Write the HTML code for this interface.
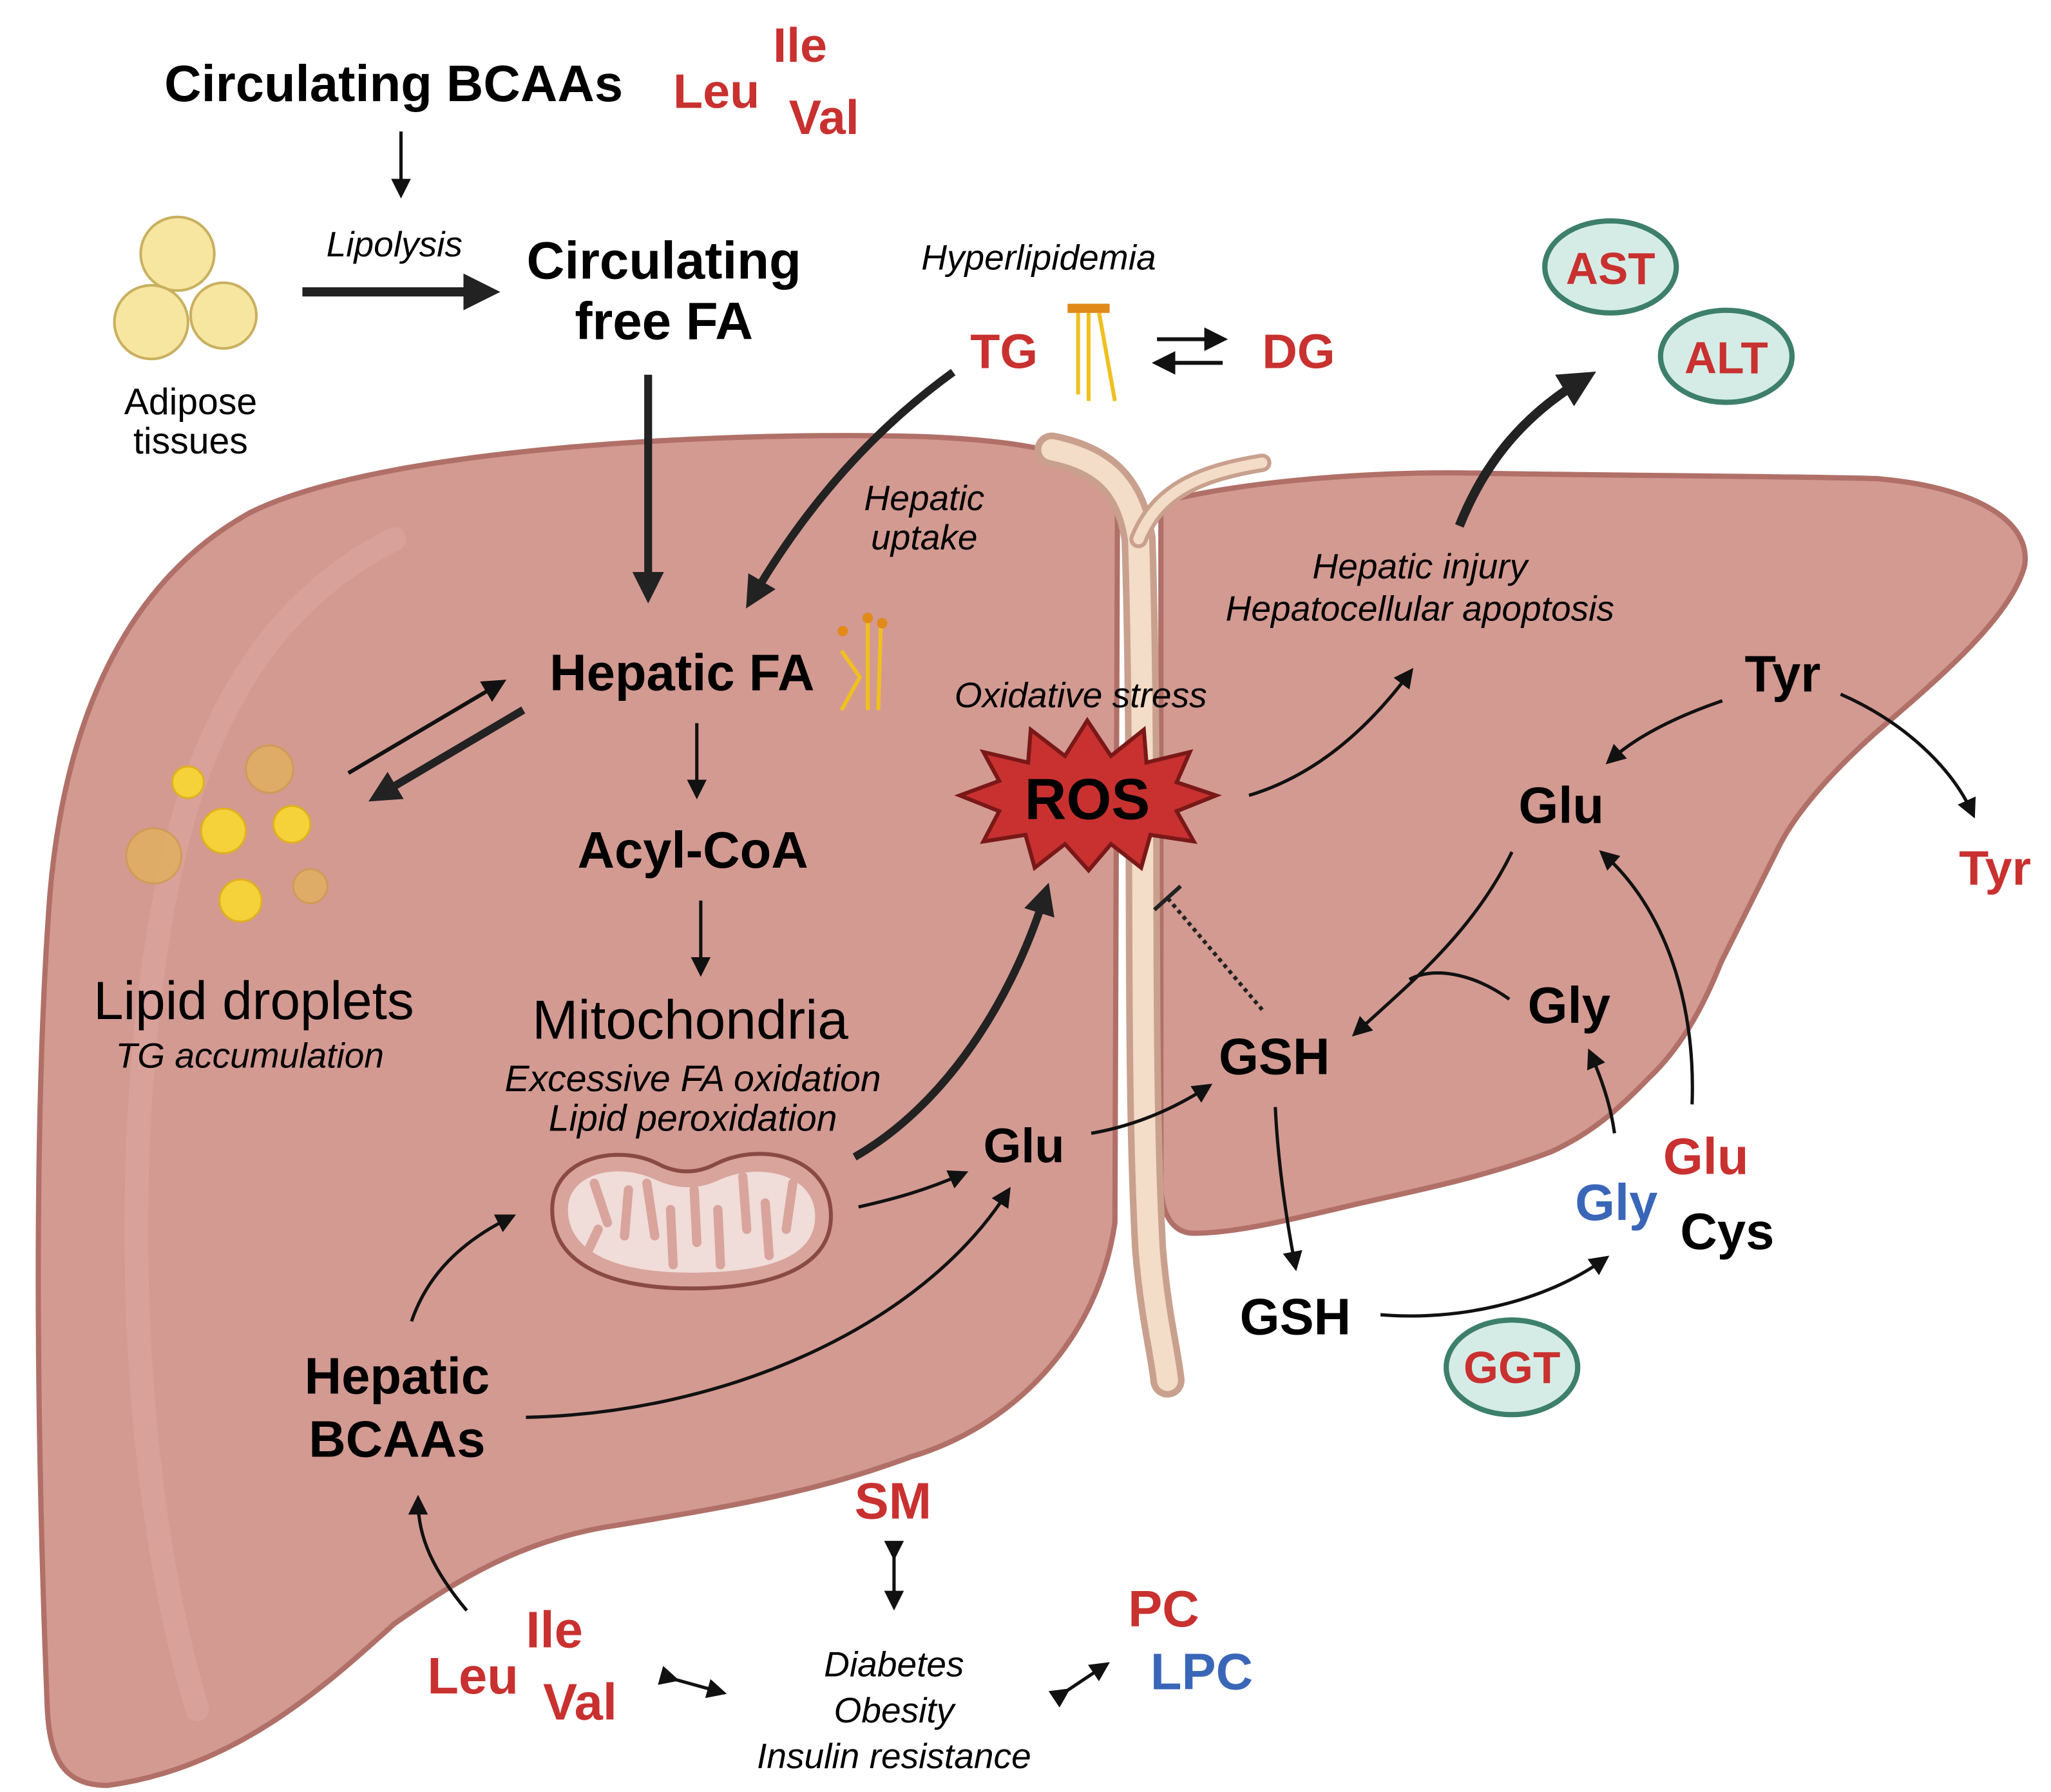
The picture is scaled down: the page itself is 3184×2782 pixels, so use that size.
<!DOCTYPE html>
<html><head><meta charset="utf-8"><style>
html,body{margin:0;padding:0;background:#fff;}
svg{display:block;}
text{font-family:"Liberation Sans",sans-serif;}
.b{font-weight:bold;}
.i{font-style:italic;}
.r{fill:#c8312f;}
.bl{fill:#3a66b8;}
</style></head><body>
<svg width="3184" height="2782" viewBox="0 0 1560 1363" xmlns="http://www.w3.org/2000/svg">
<defs>
<marker id="a" markerWidth="6" markerHeight="6" refX="4" refY="3" orient="auto" markerUnits="strokeWidth"><path d="M0,0 L6,3 L0,6 Z" fill="#111"/></marker>
<marker id="as" markerWidth="4" markerHeight="4" refX="2.5" refY="2" orient="auto-start-reverse" markerUnits="strokeWidth"><path d="M0,0 L4,2 L0,4 Z" fill="#222"/></marker>
</defs>
<rect width="1560" height="1363" fill="#fff"/>
<path d="M82,1358 C50,1358 38,1340 36,1300 C28,1100 25,850 38,680 C50,540 100,440 190,390 C290,340 550,328 700,332 C780,335 830,345 850,370 L848,930 C835,1020 770,1085 693,1108 C620,1135 560,1145 470,1160 C400,1170 350,1200 300,1235 C250,1280 180,1345 82,1358 Z" fill="#d39a92" stroke="#b07068" stroke-width="4"/>
<path d="M150,1300 C90,1100 90,800 140,620 C170,520 220,450 300,410" fill="none" stroke="#dca7a0" stroke-width="18" stroke-linecap="round" opacity="0.6"/>
<path d="M883,382 C950,365 1050,358 1130,360 C1250,362 1350,362 1427,364 C1500,370 1545,395 1540,430 C1530,470 1470,520 1427,557 C1390,590 1365,620 1353,644 C1330,690 1320,710 1309,732 C1290,780 1270,805 1254,820 C1230,845 1210,862 1180,876 C1130,895 1080,905 1031,916 C980,928 940,938 908,938 C890,938 883,920 883,900 Z" fill="#d39a92" stroke="#b07068" stroke-width="4"/>
<path d="M800,342 C840,350 860,370 866,410 C872,600 866,800 874,950 C878,1000 886,1030 888,1050" fill="none" stroke="#c9a08e" stroke-width="26" stroke-linecap="round"/>
<path d="M800,342 C840,350 860,370 866,410 C872,600 866,800 874,950 C878,1000 886,1030 888,1050" fill="none" stroke="#f3dcc8" stroke-width="16" stroke-linecap="round"/>
<path d="M866,410 C880,375 910,360 960,352" fill="none" stroke="#c9a08e" stroke-width="14" stroke-linecap="round"/>
<path d="M866,410 C880,375 910,360 960,352" fill="none" stroke="#f3dcc8" stroke-width="8" stroke-linecap="round"/>
<text x="125" y="77" class="b" font-size="39">Circulating BCAAs</text>
<text x="588" y="47" class="b r" font-size="37">Ile</text>
<text x="512" y="82" class="b r" font-size="37">Leu</text>
<text x="600" y="102" class="b r" font-size="37">Val</text>
<line x1="305" y1="100" x2="305" y2="146" stroke="#111" stroke-width="2.5" marker-end="url(#a)"/>
<g fill="#f7e6a0" stroke="#c9b060" stroke-width="2"><circle cx="135" cy="193" r="28"/><circle cx="115" cy="245" r="28"/><circle cx="170" cy="240" r="25"/></g>
<text x="145" y="315" font-size="28" text-anchor="middle">Adipose</text>
<text x="145" y="345" font-size="28" text-anchor="middle">tissues</text>
<text x="300" y="195" class="i" font-size="27" text-anchor="middle">Lipolysis</text>
<line x1="230" y1="222" x2="370" y2="222" stroke="#222" stroke-width="7" marker-end="url(#as)"/>
<text x="505" y="212" class="b" font-size="40" text-anchor="middle">Circulating</text>
<text x="505" y="258" class="b" font-size="40" text-anchor="middle">free FA</text>
<text x="790" y="205" class="i" font-size="27" text-anchor="middle">Hyperlipidemia</text>
<text x="738" y="280" class="b r" font-size="37">TG</text>
<g stroke="#f0c020" stroke-width="3"><line x1="820" y1="238" x2="820" y2="300"/><line x1="828" y1="238" x2="828" y2="305"/><line x1="836" y1="238" x2="848" y2="305"/></g>
<rect x="812" y="231" width="32" height="7" fill="#e08a1a"/>
<line x1="880" y1="258" x2="928" y2="258" stroke="#111" stroke-width="3" marker-end="url(#a)"/>
<line x1="930" y1="276" x2="882" y2="276" stroke="#111" stroke-width="3" marker-end="url(#a)"/>
<text x="960" y="280" class="b r" font-size="37">DG</text>
<ellipse cx="1225" cy="203" rx="50" ry="35" fill="#d5ece6" stroke="#3d7f6a" stroke-width="4"/>
<text x="1225" y="216" class="b r" font-size="34" text-anchor="middle">AST</text>
<ellipse cx="1313" cy="271" rx="50" ry="35" fill="#d5ece6" stroke="#3d7f6a" stroke-width="4"/>
<text x="1313" y="284" class="b r" font-size="34" text-anchor="middle">ALT</text>
<path d="M1110,400 C1130,350 1160,315 1205,288" fill="none" stroke="#222" stroke-width="7" marker-end="url(#as)"/>
<line x1="493" y1="285" x2="493" y2="450" stroke="#222" stroke-width="6" marker-end="url(#as)"/>
<path d="M725,283 C660,330 610,390 572,455" fill="none" stroke="#222" stroke-width="6" marker-end="url(#as)"/>
<text x="703" y="388" class="i" font-size="27" text-anchor="middle">Hepatic</text>
<text x="703" y="418" class="i" font-size="27" text-anchor="middle">uptake</text>
<text x="1080" y="440" class="i" font-size="27" text-anchor="middle">Hepatic injury</text>
<text x="1080" y="472" class="i" font-size="27" text-anchor="middle">Hepatocellular apoptosis</text>
<text x="418" y="525" class="b" font-size="39">Hepatic FA</text>
<g stroke="#f0c020" stroke-width="3" fill="none"><path d="M640,495 L654,515 L640,540"/><line x1="660" y1="472" x2="660" y2="540"/><line x1="670" y1="475" x2="668" y2="540"/></g>
<circle cx="660" cy="470" r="4" fill="#e08a1a"/><circle cx="671" cy="474" r="4" fill="#e08a1a"/><circle cx="641" cy="480" r="4" fill="#e08a1a"/>
<line x1="265" y1="588" x2="380" y2="520" stroke="#111" stroke-width="3" marker-end="url(#a)"/>
<line x1="398" y1="540" x2="288" y2="605" stroke="#222" stroke-width="6" marker-end="url(#as)"/>
<g fill="#f5d23a" stroke="#e0b020" stroke-width="1.5"><circle cx="143" cy="595" r="12"/><circle cx="170" cy="632" r="17"/><circle cx="222" cy="627" r="14"/><circle cx="183" cy="685" r="16"/></g>
<g fill="#e2b060" stroke="#d09a50" stroke-width="1.5" opacity="0.85"><circle cx="205" cy="585" r="18"/><circle cx="117" cy="651" r="21"/><circle cx="236" cy="674" r="13"/></g>
<text x="193" y="775" font-size="41" text-anchor="middle">Lipid droplets</text>
<text x="190" y="812" class="i" font-size="27" text-anchor="middle">TG accumulation</text>
<line x1="530" y1="550" x2="530" y2="603" stroke="#111" stroke-width="2.5" marker-end="url(#a)"/>
<text x="527" y="660" class="b" font-size="39" text-anchor="middle">Acyl-CoA</text>
<line x1="533" y1="685" x2="533" y2="738" stroke="#111" stroke-width="2.5" marker-end="url(#a)"/>
<text x="525" y="790" font-size="42" text-anchor="middle">Mitochondria</text>
<text x="527" y="830" class="i" font-size="28" text-anchor="middle">Excessive FA oxidation</text>
<text x="527" y="860" class="i" font-size="28" text-anchor="middle">Lipid peroxidation</text>
<path d="M420,920 C420,880 470,870 500,885 C515,893 530,893 545,885 C580,868 632,880 632,925 C632,965 585,980 525,980 C465,980 420,962 420,920 Z" fill="#d8a49c" stroke="#8a4a44" stroke-width="3"/>
<path d="M432,920 C432,892 470,884 498,897 C515,905 532,905 548,897 C578,884 620,893 620,925 C620,958 580,968 525,968 C470,968 432,953 432,920 Z" fill="#f0dcd8"/>
<g stroke="#d8a49c" stroke-width="7" stroke-linecap="round"><line x1="452" y1="900" x2="462" y2="930"/><line x1="475" y1="940" x2="478" y2="905"/><line x1="492" y1="900" x2="498" y2="940"/><line x1="512" y1="962" x2="510" y2="920"/><line x1="528" y1="905" x2="530" y2="945"/><line x1="548" y1="962" x2="546" y2="920"/><line x1="565" y1="895" x2="568" y2="935"/><line x1="585" y1="955" x2="582" y2="915"/><line x1="603" y1="900" x2="598" y2="935"/><line x1="448" y1="950" x2="455" y2="935"/></g>
<text x="822" y="538" class="i" font-size="27" text-anchor="middle">Oxidative stress</text>
<polygon points="827,548 845,575 870,555 872,580 905,572 895,595 925,605 895,617 908,640 875,635 868,660 845,642 828,662 810,642 787,660 780,635 748,640 760,617 730,605 760,594 748,572 782,580 784,555 810,575" fill="#c8312f" stroke="#7a1818" stroke-width="3"/>
<text x="827" y="623" class="b" font-size="44" text-anchor="middle">ROS</text>
<path d="M950,605 C1000,590 1040,555 1072,512" fill="none" stroke="#111" stroke-width="2.5" marker-end="url(#a)"/>
<path d="M650,880 C720,840 770,760 795,680" fill="none" stroke="#222" stroke-width="6" marker-end="url(#as)"/>
<path d="M653,918 C680,912 705,905 732,893" fill="none" stroke="#111" stroke-width="2.5" marker-end="url(#a)"/>
<text x="748" y="884" class="b" font-size="37">Glu</text>
<path d="M830,862 C865,856 895,842 918,827" fill="none" stroke="#111" stroke-width="2.5" marker-end="url(#a)"/>
<text x="927" y="817" class="b" font-size="39">GSH</text>
<line x1="960" y1="768" x2="888" y2="683" stroke="#222" stroke-width="3" stroke-dasharray="3,3"/>
<line x1="878" y1="692" x2="898" y2="674" stroke="#222" stroke-width="3"/>
<text x="1327" y="526" class="b" font-size="39">Tyr</text>
<path d="M1400,528 C1450,550 1485,585 1500,618" fill="none" stroke="#111" stroke-width="2.5" marker-end="url(#a)"/>
<text x="1490" y="673" class="b r" font-size="37">Tyr</text>
<path d="M1310,533 C1275,545 1245,560 1225,578" fill="none" stroke="#111" stroke-width="2.5" marker-end="url(#a)"/>
<text x="1155" y="626" class="b" font-size="39">Glu</text>
<path d="M1150,648 C1120,710 1070,750 1032,785" fill="none" stroke="#111" stroke-width="2.5" marker-end="url(#a)"/>
<path d="M1148,760 C1120,740 1090,735 1072,745" fill="none" stroke="#111" stroke-width="2.5"/>
<text x="1162" y="778" class="b" font-size="39">Gly</text>
<path d="M970,842 C972,885 978,925 985,962" fill="none" stroke="#111" stroke-width="2.5" marker-end="url(#a)"/>
<text x="943" y="1015" class="b" font-size="39">GSH</text>
<path d="M1050,1000 C1110,1005 1175,990 1220,958" fill="none" stroke="#111" stroke-width="2.5" marker-end="url(#a)"/>
<ellipse cx="1150" cy="1040" rx="50" ry="36" fill="#d5ece6" stroke="#3d7f6a" stroke-width="4"/>
<text x="1150" y="1052" class="b r" font-size="34" text-anchor="middle">GGT</text>
<text x="1198" y="928" class="b bl" font-size="39">Gly</text>
<text x="1265" y="893" class="b r" font-size="39">Glu</text>
<text x="1278" y="950" class="b" font-size="39">Cys</text>
<path d="M1228,862 C1225,840 1218,820 1210,802" fill="none" stroke="#111" stroke-width="2.5" marker-end="url(#a)"/>
<path d="M1287,840 C1290,760 1265,690 1220,650" fill="none" stroke="#111" stroke-width="2.5" marker-end="url(#a)"/>
<text x="302" y="1060" class="b" font-size="39" text-anchor="middle">Hepatic</text>
<text x="302" y="1108" class="b" font-size="39" text-anchor="middle">BCAAs</text>
<path d="M313,1005 C325,970 350,945 388,926" fill="none" stroke="#111" stroke-width="2.5" marker-end="url(#a)"/>
<path d="M400,1078 C550,1075 700,1010 766,907" fill="none" stroke="#111" stroke-width="2.5" marker-end="url(#a)"/>
<text x="650" y="1155" class="b r" font-size="39">SM</text>
<line x1="680" y1="1182" x2="680" y2="1220" stroke="#111" stroke-width="2.5" marker-start="url(#a)" marker-end="url(#a)"/>
<text x="680" y="1275" class="i" font-size="27" text-anchor="middle">Diabetes</text>
<text x="680" y="1310" class="i" font-size="27" text-anchor="middle">Obesity</text>
<text x="680" y="1345" class="i" font-size="27" text-anchor="middle">Insulin resistance</text>
<text x="325" y="1288" class="b r" font-size="39">Leu</text>
<text x="400" y="1253" class="b r" font-size="39">Ile</text>
<text x="413" y="1308" class="b r" font-size="39">Val</text>
<path d="M355,1225 C330,1195 318,1170 318,1142" fill="none" stroke="#111" stroke-width="2.5" marker-end="url(#a)"/>
<line x1="512" y1="1277" x2="548" y2="1287" stroke="#111" stroke-width="2.5" marker-start="url(#a)" marker-end="url(#a)"/>
<line x1="810" y1="1287" x2="840" y2="1267" stroke="#111" stroke-width="2.5" marker-start="url(#a)" marker-end="url(#a)"/>
<text x="858" y="1237" class="b r" font-size="39">PC</text>
<text x="875" y="1285" class="b bl" font-size="39">LPC</text>
</svg>
</body></html>
